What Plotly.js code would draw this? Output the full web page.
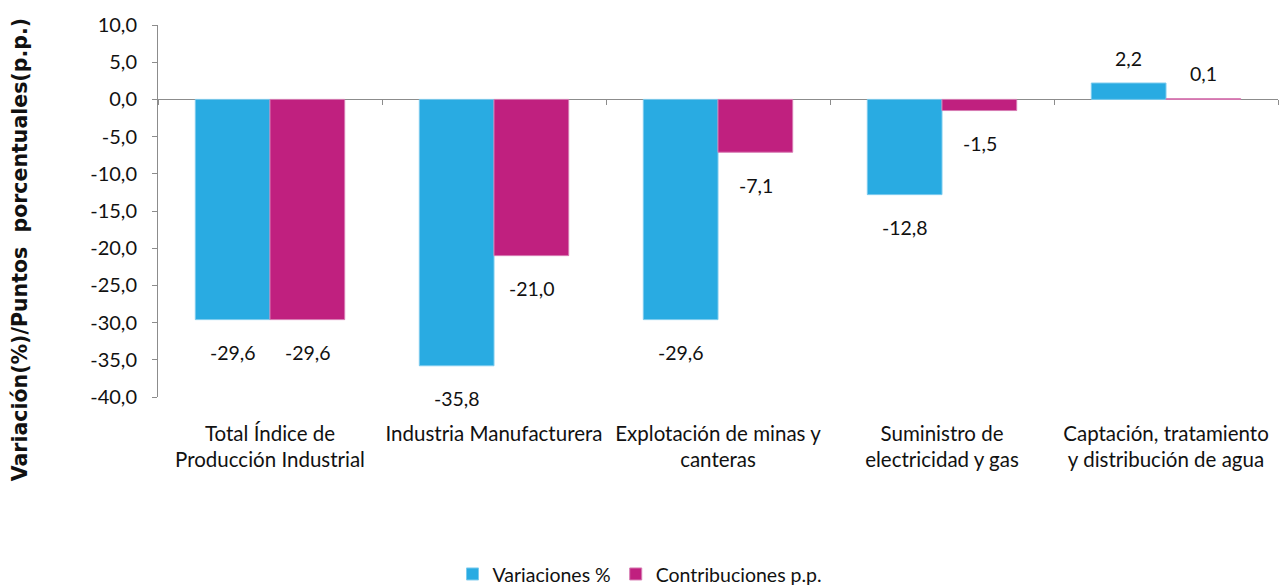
<!DOCTYPE html>
<html><head><meta charset="utf-8">
<script src="https://cdn.plot.ly/plotly-3.0.1.min.js"></script>
<style>html,body{margin:0;padding:0;background:#fff}#chart{width:1280px;height:586px}</style>
</head><body><div id="chart"></div>
<script>
const categories = [
  "Total Índice de<br>Producción Industrial",
  "Industria Manufacturera",
  "Explotación de minas y<br>canteras",
  "Suministro de<br>electricidad y gas",
  "Captación, tratamiento<br>y distribución de agua"
];
const variaciones = [-29.6, -35.8, -29.6, -12.8, 2.2];
const contribuciones = [-29.6, -21.0, -7.1, -1.5, 0.1];
const seriesNames = ["Variaciones %", "Contribuciones p.p."];
const yTitle = "Variación(%)/Puntos  porcentuales(p.p.)";
const yTickVals = [10, 5, 0, -5, -10, -15, -20, -25, -30, -35, -40];
const yTickText = ["10,0", "5,0", "0,0", "-5,0", "-10,0", "-15,0", "-20,0", "-25,0", "-30,0", "-35,0", "-40,0"];
const colors = ["#29ABE2", "#C0207F"];
const edgeColors = ["#7CCBEE", "#D77BB3"];

const FONT = "Lato, 'Open Sans', sans-serif";
const TFONT = "'DejaVu Sans', sans-serif";
const fmt = v => v.toFixed(1).replace('.', ',');

const traces = [
  {type:'bar', name:seriesNames[0], x:categories, y:variaciones, marker:{color:colors[0], line:{color:edgeColors[0], width:1}}, hoverinfo:'skip'},
  {type:'bar', name:seriesNames[1], x:categories, y:contribuciones, marker:{color:colors[1], line:{color:edgeColors[1], width:1}}, hoverinfo:'skip'},
  {type:'bar', x:categories, y:categories.map(()=>null), xaxis:'x2', showlegend:false, hoverinfo:'skip'}
];

const annotations = [];
[variaciones, contribuciones].forEach((arr, si) => {
  arr.forEach((v, i) => {
    annotations.push({
      x: categories[i], y: v, xref:'x', yref:'y',
      text: fmt(v), showarrow:false,
      xshift: si === 0 ? -37.5 : 37.5,
      yshift: v < 0 ? -33 : 25,
      yanchor:'middle',
      font:{family:FONT, size:19.5, color:'#111'}
    });
  });
});
annotations.push({
  text:'<b>' + yTitle + '</b>', textangle:-90, showarrow:false,
  xref:'paper', yref:'paper', x:(20-158)/1122, y:(397-250)/372,
  xanchor:'center', yanchor:'middle',
  font:{family:TFONT, size:20.5, color:'#111'}
});

const layout = {
  width:1280, height:586,
  margin:{l:158, r:2, t:25, b:189},
  paper_bgcolor:'#fff', plot_bgcolor:'#fff',
  separators:',.',
  barmode:'group', bargap:0.333, bargroupgap:0,
  font:{family:FONT, size:20, color:'#111'},
  xaxis:{
    type:'category', showline:false, ticks:'', showgrid:false, zeroline:false,
    tickangle:0, automargin:false,
    tickfont:{family:FONT, size:20.5, color:'#111'},
    ticklabelstandoff:22
  },
  xaxis2:{
    type:'category', overlaying:'x', anchor:'free', position:0.8, matches:'x',
    showline:false, ticks:'outside', tickson:'boundaries', ticklen:5, tickcolor:'#8c8c8c',
    showticklabels:false, showgrid:false, zeroline:false
  },
  yaxis:{
    range:[-40, 10], tickmode:'array', tickvals:yTickVals, ticktext:yTickText, automargin:false,
    showline:true, linecolor:'#8c8c8c', linewidth:1,
    ticks:'outside', ticklen:5, tickcolor:'#8c8c8c', ticklabelstandoff:11,
    showgrid:false, zeroline:true, zerolinecolor:'#8c8c8c', zerolinewidth:1,
    tickfont:{family:FONT, size:20, color:'#111'}
  },
  legend:{
    orientation:'h', xref:'container', yref:'container', x:0.5, xanchor:'center', y:0.02, yanchor:'middle',
    font:{family:FONT, size:19.5, color:'#111'}, itemwidth:30, traceorder:'normal'
  },
  annotations:annotations,
  showlegend:true
};

Plotly.newPlot('chart', traces, layout, {displayModeBar:false, staticPlot:true});
</script>
</body></html>
